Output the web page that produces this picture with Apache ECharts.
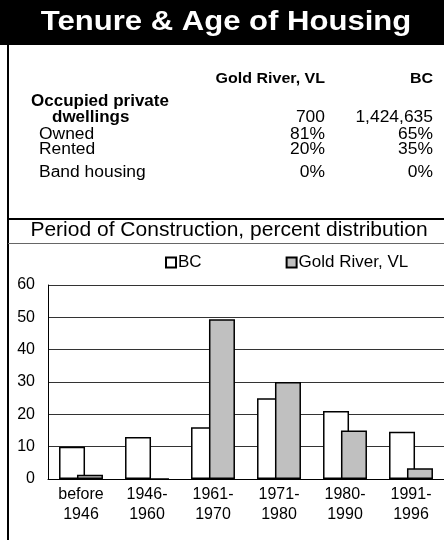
<!DOCTYPE html>
<html>
<head>
<meta charset="utf-8">
<script src="https://cdn.jsdelivr.net/npm/echarts@6/dist/echarts.min.js"></script>
<style>
  html, body { margin: 0; padding: 0; background: #fff; }
  #chart { width: 444px; height: 540px; }
</style>
</head>
<body>
<div id="chart"></div>
<script>
// 建造年代分布数据
const categories = ['before\n1946', '1946-\n1960', '1961-\n1970', '1971-\n1980', '1980-\n1990', '1991-\n1996']
const bcValues = [10, 13, 16, 25, 21, 14.6]
const goldRiverValues = [1.3, 0, 49.4, 30, 15, 3.3]
const yTicks = [0, 10, 20, 30, 40, 50, 60]

// 上方表格
const tableHeader = ['Gold River, VL', 'BC']
const rowLabels = ['Owned', 'Rented', 'Band housing']
const goldRiverRow = ['81%', '20%', '0%']
const bcRow = ['65%', '35%', '0%']
const dwellings = ['700', '1,424,635']

const FONT = '"Liberation Sans", Arial, sans-serif'
const STRETCH = 1.09 // 原图文字略有横向拉伸
const chart = echarts.init(document.getElementById('chart'))

const txt = (x, y, text, opts = {}) => ({
  type: 'text',
  x,
  y,
  scaleX: STRETCH,
  style: {
    text,
    fill: opts.fill || '#000',
    font: `${opts.bold ? 'bold ' : ''}${opts.size || 16}px ${FONT}`,
    align: opts.align || 'left',
    verticalAlign: 'middle',
  },
})

const rowY = [135, 150, 173]
const graphics = [
  { type: 'rect', shape: { x: 0, y: 0, width: 444, height: 45 }, style: { fill: '#000' } },
  txt(226, 22, 'Tenure & Age of Housing', { bold: true, size: 28.5, fill: '#fff', align: 'center' }),
  { type: 'line', shape: { x1: 8, y1: 45, x2: 8, y2: 540 }, style: { stroke: '#000', lineWidth: 2 } },
  { type: 'line', shape: { x1: 8, y1: 219, x2: 444, y2: 219 }, style: { stroke: '#000', lineWidth: 2 } },
  { type: 'line', shape: { x1: 8, y1: 243.5, x2: 444, y2: 243.5 }, style: { stroke: '#666', lineWidth: 1 } },
  txt(325, 79, tableHeader[0], { bold: true, size: 14.7, align: 'right' }),
  txt(433, 79, tableHeader[1], { bold: true, size: 14.7, align: 'right' }),
  txt(31, 102, 'Occupied private', { bold: true, size: 15.6 }),
  txt(52, 118, 'dwellings', { bold: true, size: 15.6 }),
  txt(325, 118, dwellings[0], { align: 'right' }),
  txt(433, 118, dwellings[1], { align: 'right' }),
  txt(229, 231, 'Period of Construction, percent distribution', { size: 19.3, align: 'center' }),
]
rowLabels.forEach((label, i) => {
  graphics.push(txt(39, rowY[i], label))
  graphics.push(txt(325, rowY[i], goldRiverRow[i], { align: 'right' }))
  graphics.push(txt(433, rowY[i], bcRow[i], { align: 'right' }))
})

const option = {
  animation: false,
  textStyle: { fontFamily: FONT },
  graphic: graphics,
  legend: {
    data: ['BC', 'Gold River, VL'],
    left: 165,
    top: 254,
    padding: 0,
    itemWidth: 10,
    itemHeight: 10,
    itemGap: 84,
    icon: 'rect',
    textStyle: { fontSize: 17, color: '#000', fontFamily: FONT, padding: [0, 0, 0, -3] },
  },
  grid: { left: 48, top: 285, right: -4, bottom: 61 },
  xAxis: {
    type: 'category',
    data: categories,
    axisLine: { lineStyle: { color: '#000', width: 1 } },
    axisTick: { show: false },
    axisLabel: { color: '#000', fontSize: 16, lineHeight: 20, margin: 6, fontFamily: FONT },
  },
  yAxis: {
    type: 'value',
    min: yTicks[0],
    max: yTicks[yTicks.length - 1],
    interval: 10,
    axisLine: { show: true, lineStyle: { color: '#000', width: 1 } },
    axisTick: { show: false },
    axisLabel: { color: '#000', fontSize: 16, margin: 13, fontFamily: FONT },
    splitLine: { lineStyle: { color: '#333', width: 1 } },
  },
  series: [
    {
      name: 'BC',
      type: 'bar',
      data: bcValues,
      barWidth: 26,
      barGap: '-31%',
      itemStyle: { color: '#fff', borderColor: '#000', borderWidth: 1.5 },
    },
    {
      name: 'Gold River, VL',
      type: 'bar',
      data: goldRiverValues,
      barWidth: 26,
      itemStyle: { color: '#c0c0c0', borderColor: '#000', borderWidth: 1.5 },
    },
  ],
}
chart.setOption(option)
</script>
</body>
</html>
